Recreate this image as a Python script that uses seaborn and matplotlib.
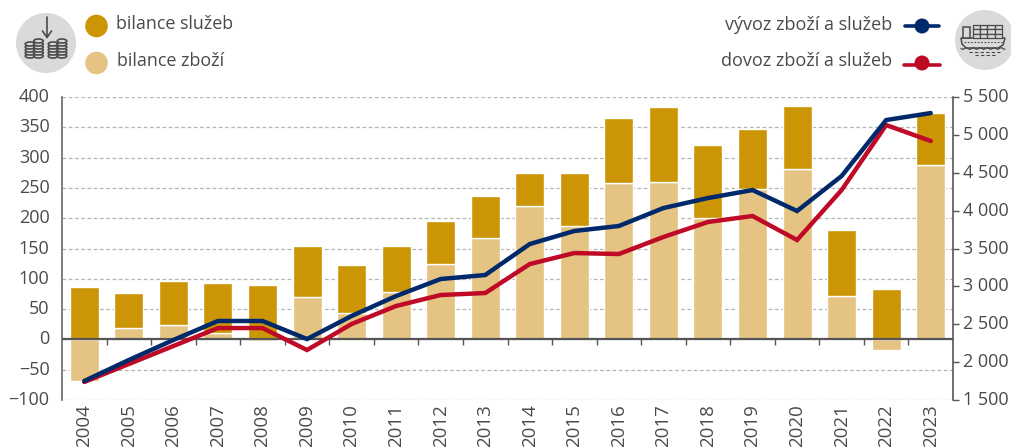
import numpy as np
import pandas as pd
import matplotlib
matplotlib.use("Agg")
import matplotlib.pyplot as plt
from matplotlib.patches import Circle, Rectangle, Ellipse, Polygon
from matplotlib.lines import Line2D
from matplotlib.transforms import ScaledTranslation
import seaborn as sns

years = [str(y) for y in range(2004, 2024)]
goods = [-68, 19, 24, 10, -3, 70, 43, 78, 124, 167, 220, 187, 258, 260, 200, 248, 281, 72, -17, 288]
services = [87, 57, 72, 83, 90, 84, 79, 76, 71, 69, 55, 88, 107, 124, 120, 99, 104, 109, 83, 86]
exports = [1751, 2028, 2292, 2543, 2543, 2305, 2609, 2873, 3097, 3150, 3559, 3731, 3797, 4034, 4166, 4272, 3995, 4457, 5196, 5288]
imports = [1738, 1975, 2213, 2450, 2450, 2160, 2503, 2741, 2886, 2912, 3295, 3440, 3427, 3652, 3850, 3929, 3612, 4272, 5130, 4919]
left_ticks = [-100, -50, 0, 50, 100, 150, 200, 250, 300, 350, 400]
right_ticks = [1500, 2000, 2500, 3000, 3500, 4000, 4500, 5000, 5500]
labels = ["bilance služeb", "bilance zboží", "vývoz zboží a služeb", "dovoz zboží a služeb"]

GOLD, SAND, NAVY, RED = "#CC9505", "#E5C382", "#00296B", "#BE0A26"
TXT, GRID, ICON, ICONBG = "#4A4A4A", "#B5B5B5", "#4A4A4C", "#D9DADC"

sns.set_theme(style="white")
plt.rcParams["font.family"] = ["Open Sans", "DejaVu Sans"]
W, H = 1011, 447
fig = plt.figure(figsize=(W / 100, H / 100), dpi=100, facecolor="white")
ax = fig.add_axes([62 / W, 1 - 400 / H, (953 - 62) / W, (400 - 97) / H])

df = pd.DataFrame({"year": years, "goods": goods, "services": services, "exports": exports, "imports": imports})
base = df["goods"].clip(lower=0)
sns.barplot(data=df, x="year", y="goods", color=SAND, width=0.65, saturation=1, ax=ax, zorder=2)
sns.barplot(data=df, x="year", y="services", bottom=base, color=GOLD, width=0.65, saturation=1, ax=ax, zorder=2)

ax.set_xlim(-0.5, 19.5)
ax.set_ylim(-100, 400)
ax.set_yticks(left_ticks)
ax.set_yticklabels([str(v).replace("-", "\u2212") for v in left_ticks], fontsize=13, color=TXT)
ax.tick_params(axis="y", length=0, pad=9)
ax.set_xticks(range(20))
ax.set_xticklabels(years, rotation=90, fontsize=13.5, color=TXT)
ax.tick_params(axis="x", length=0, pad=3)
ax.set_xlabel("")
ax.set_ylabel("")
ax.yaxis.grid(True, color=GRID, lw=0.9, ls=(0, (3, 2)), zorder=0)
ax.set_axisbelow(True)
for s in ["top", "right", "bottom"]:
    ax.spines[s].set_visible(False)
ax.spines["left"].set(color="#666666", lw=1.2)
ax.axhline(0, color="#555555", lw=1.6, zorder=3)
sec = ax.secondary_xaxis(0, transform=ax.transData)
sec.set_xticks(np.arange(0.5, 19.5, 1))
sec.set_xticklabels([])
sec.tick_params(length=4, width=1, color="#555555", direction="out")
sec.spines["bottom"].set_visible(False)

ax2 = ax.twinx()
pos = np.arange(len(years))
sns.lineplot(x=pos, y=imports, color=RED, lw=3.2, ax=ax2, zorder=4, solid_joinstyle="miter", solid_capstyle="round")
sns.lineplot(x=pos, y=exports, color=NAVY, lw=3.2, ax=ax2, zorder=5, solid_joinstyle="miter", solid_capstyle="round")
ax2.set_ylim(1500, 5500)
ax2.set_yticks(right_ticks)
ax2.set_yticklabels([f"{v:,}".replace(",", "\u00a0") for v in right_ticks], fontsize=13, color=TXT)
ax2.tick_params(axis="y", length=4, width=1, color="#555555", pad=3, direction="out")
ax2.set_ylabel("")
ax2.grid(False)
for s in ["top", "left", "bottom"]:
    ax2.spines[s].set_visible(False)
ax2.spines["right"].set(color="#555555", lw=1.2)

# axis labels sit about 2 px above their gridlines
shift = ScaledTranslation(0, 2 / 100, fig.dpi_scale_trans)
for a in (ax, ax2):
    for t in a.get_yticklabels():
        t.set_transform(t.get_transform() + shift)

# overlay in pixel coordinates for legend and pictograms
ov = fig.add_axes([0, 0, 1, 1], facecolor="none")
ov.set_xlim(0, W)
ov.set_ylim(H, 0)
ov.axis("off")
ov.set_zorder(10)

ov.add_patch(Circle((46, 43), 30, fc=ICONBG, ec="none"))
ov.add_patch(Circle((985, 40), 30, fc=ICONBG, ec="none"))

ov.add_patch(Circle((96.5, 26), 11.3, fc=GOLD, ec="none"))
ov.add_patch(Circle((96.5, 63), 11.3, fc=SAND, ec="none"))
ov.text(116, 24, labels[0], fontsize=12.9, color=TXT, va="center", ha="left")
ov.text(117, 61, labels[1], fontsize=12.9, color=TXT, va="center", ha="left")
ov.text(892, 25, labels[2], fontsize=13, color=TXT, va="center", ha="right")
ov.text(892, 61, labels[3], fontsize=13, color=TXT, va="center", ha="right")
ov.add_line(Line2D([905, 939], [26, 26], color=NAVY, lw=2.6, solid_capstyle="round"))
ov.add_patch(Circle((922, 26), 7.5, fc=NAVY, ec="none"))
ov.add_line(Line2D([904, 940], [65, 65], color=RED, lw=2.6, solid_capstyle="round"))
ov.add_patch(Circle((922, 63), 7.5, fc=RED, ec="none"))

# coins icon
ov.add_line(Line2D([47, 47], [17, 37], color=ICON, lw=1.2))
ov.add_line(Line2D([42.5, 47, 51.5], [31, 37.5, 31], color=ICON, lw=1.2))
for cx, ys in ((30, (56, 53, 50, 47, 44)), (38.5, (56, 53, 50, 47, 44, 41)), (53, (56, 53, 50, 47, 44)), (62, (56, 53, 50, 47, 44, 41))):
    for y in ys:
        ov.add_patch(Ellipse((cx, y), 9.5, 4, fc=ICONBG, ec=ICON, lw=1.2))

# ship icon
ov.add_patch(Polygon([(961, 38), (1005, 38), (1003, 45), (998, 48), (966, 48), (962, 44)], closed=True, fc=ICONBG, ec=ICON, lw=1.1))
ov.add_patch(Rectangle((963, 27), 7, 11, fc=ICONBG, ec=ICON, lw=1.1))
for i in range(4):
    for j in range(3):
        ov.add_patch(Rectangle((973 + i * 7.2, 25 + j * 4.4), 7.2, 4.4, fc=ICONBG, ec=ICON, lw=0.9))
ov.add_line(Line2D([964, 1002], [42, 42], color=ICON, lw=0.8, ls=(0, (1.5, 1.5))))
wx = np.linspace(961, 1005, 40)
ov.add_line(Line2D(wx, 48.5 + 0.8 * np.sin((wx - 961) * 0.9), color=ICON, lw=0.9))
ov.add_line(Line2D([969, 1000], [52, 52], color=ICON, lw=0.8, ls=(0, (3, 2))))
ov.add_line(Line2D([975, 995], [55, 55], color=ICON, lw=0.8, ls=(0, (3, 2))))

fig.savefig("out.png", dpi=100)
